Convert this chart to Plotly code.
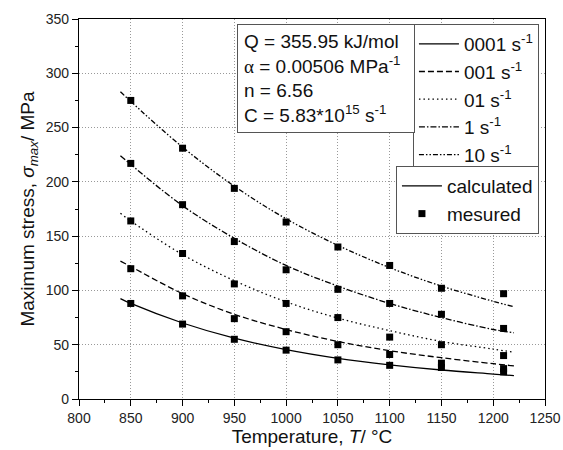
import plotly.graph_objects as go

# strain rates (legend text as printed on the chart)
RATE_LABELS = ["0001", "001", "01", "1", "10"]

# calculated curves
T_CURVE = [840, 850, 900, 950, 1000, 1050, 1100, 1150, 1200, 1220]
CALC_0001 = [92.5, 88, 70, 56, 45.5, 37.5, 31.5, 26.7, 23, 21.5]
CALC_001 = [127, 122, 97, 78, 64, 53, 44.5, 38, 32.5, 30.5]
CALC_01 = [171, 164, 133, 109, 89.5, 74.5, 63, 53, 46, 43]
CALC_1 = [224, 216, 178, 148, 123, 104, 88, 75, 64, 61]
CALC_10 = [283, 274, 232, 196, 166, 141.5, 121, 104, 90, 85]

# measured points
T_MEAS = [850, 900, 950, 1000, 1050, 1100, 1150, 1210]
MEAS_0001 = [88, 69, 55, 45, 36, 31, 29, 25]
MEAS_001 = [120, 95, 74, 62, 50, 41, 33, 28]
MEAS_01 = [164, 134, 106, 88, 75, 57, 50, 40]
MEAS_1 = [217, 179, 145, 119, 101, 88, 78, 65]
MEAS_10 = [275, 231, 194, 163, 140, 123, 102, 97]

CALC = [CALC_0001, CALC_001, CALC_01, CALC_1, CALC_10]
MEAS = [MEAS_0001, MEAS_001, MEAS_01, MEAS_1, MEAS_10]
DASHES = ["solid", "6px,3px", "1.5px,3px", "6px,2px,1.5px,2px", "5px,2px,1.5px,2px,1.5px,2px"]

FONT = "Liberation Sans, Arial, sans-serif"

fig = go.Figure()

for lab, ys, dash in zip(RATE_LABELS, CALC, DASHES):
    fig.add_trace(go.Scatter(
        x=T_CURVE, y=ys, mode="lines", name=f"{lab} s<sup>-1</sup>",
        line=dict(color="black", width=1.3, dash=dash, shape="spline"),
        legend="legend",
    ))

# second legend: calculated / mesured
fig.add_trace(go.Scatter(
    x=[None], y=[None], mode="lines", name="calculated",
    line=dict(color="black", width=1.3), legend="legend2",
))
for i, ys in enumerate(MEAS):
    fig.add_trace(go.Scatter(
        x=T_MEAS, y=ys, mode="markers", name="mesured",
        marker=dict(symbol="square", size=7, color="black"),
        legend="legend2", showlegend=(i == 0),
    ))

params = ("Q = 355.95 kJ/mol<br>"
          "<span style=\"font-family:'Liberation Serif'\">α</span> = 0.00506 MPa<sup>-1</sup><br>"
          "n = 6.56<br>"
          "C = 5.83*10<sup>15</sup> s<sup>-1</sup>")
fig.add_annotation(
    x=0.339, y=0.987, xref="paper", yref="paper", xanchor="left", yanchor="top",
    text=params, showarrow=False, align="left", width=164,
    font=dict(size=19, color="#111", family=FONT),
    bordercolor="#555", borderwidth=1, borderpad=6, bgcolor="white",
)

axis_common = dict(
    showline=True, linecolor="black", linewidth=1.3, mirror=True,
    ticks="outside", ticklen=6, tickwidth=1, tickcolor="black",
    showgrid=True, gridcolor="#999", griddash="1px,2px", gridwidth=1,
    zeroline=False, tickfont=dict(size=14, color="#222", family=FONT),
    dtick=50, automargin=False,
    minor=dict(ticks="outside", ticklen=3, tickcolor="black", dtick=25, showgrid=False),
)

fig.update_xaxes(
    range=[800, 1250], tick0=800,
    title=dict(text="Temperature, <i>T</i>/ °C", font=dict(size=19, family=FONT, color="#111"), standoff=0),
    **axis_common,
)
fig.update_yaxes(
    range=[0, 350], tick0=0,
    title=dict(text="Maximum stress, <i>σ<sub>max</sub></i>/ MPa", font=dict(size=19, family=FONT, color="#111"), standoff=6),
    **axis_common,
)

legend_common = dict(
    bgcolor="white", bordercolor="#555", borderwidth=1,
    font=dict(size=19, color="#111", family=FONT), itemwidth=40,
    xanchor="right", yanchor="top", tracegroupgap=0,
)
fig.update_layout(
    width=563, height=450,
    margin=dict(l=79, r=18, t=19, b=51, autoexpand=False),
    paper_bgcolor="white", plot_bgcolor="white",
    font=dict(family=FONT),
    legend=dict(x=0.987, y=0.987, **legend_common),
    legend2=dict(x=0.987, y=0.613, **legend_common),
)

# the page body has a default margin; drop it so the figure sits at the corner
fig.write_html(
    "out.html",
    config={"displayModeBar": False},
    post_script="document.body.style.margin='0px';",
)
